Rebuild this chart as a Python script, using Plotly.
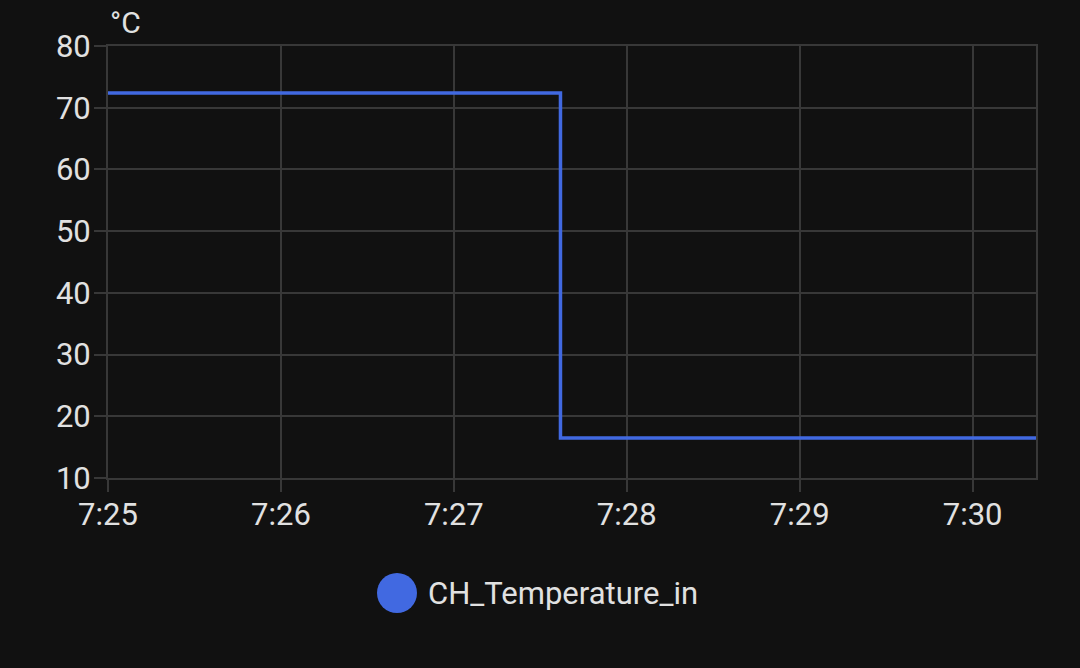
import plotly.graph_objects as go

# ---------------------------------------------------------------------
# Data
# ---------------------------------------------------------------------
TIMES = ["2024-01-01 07:25:00", "2024-01-01 07:27:37", "2024-01-01 07:30:22"]
TEMPS = [72.4, 16.5, 16.5]
SERIES_NAME = "CH_Temperature_in"
UNIT = "°C"
X_RANGE = ["2024-01-01 07:25:00", "2024-01-01 07:30:22"]
Y_TICKS = [10, 20, 30, 40, 50, 60, 70, 80]

# ---------------------------------------------------------------------
# Theme
# ---------------------------------------------------------------------
BG = "#111111"
GRID = "#383838"
TEXT = "#e1e1e1"
BLUE = "#4169e1"
FONT = "Roboto, Noto Sans, sans-serif"

fig = go.Figure()
fig.add_trace(go.Scatter(
    x=TIMES, y=TEMPS, mode="lines", line_shape="hv",
    line=dict(color=BLUE, width=3.5), name=SERIES_NAME, showlegend=False,
))

fig.update_layout(
    width=1080, height=668,
    paper_bgcolor=BG, plot_bgcolor=BG,
    font=dict(family=FONT, color=TEXT, size=31),
    margin=dict(l=108, r=44, t=46, b=190),
    showlegend=False,
)
axis_style = dict(
    showgrid=True, gridcolor=GRID, gridwidth=2,
    ticks="outside", ticklen=12, tickcolor=GRID, tickwidth=2,
    showline=True, linecolor=GRID, linewidth=2, mirror=True, zeroline=False,
    tickfont=dict(size=31, color=TEXT),
)
fig.update_xaxes(range=X_RANGE, tickformat="%-H:%M", dtick=60000,
                 ticklabelstandoff=-4, **axis_style)
fig.update_yaxes(range=[10, 80], tickvals=Y_TICKS, ticklabelstandoff=-3, **axis_style)

# unit label above the y axis
fig.add_annotation(
    text=UNIT, xref="paper", yref="paper", x=0, y=1, yshift=4,
    xanchor="left", yanchor="bottom", showarrow=False,
    font=dict(size=30, color=TEXT),
)

# custom legend (large circle + label), centred under the plot
fig.add_shape(
    type="circle", xref="paper", yref="paper",
    x0=(377 - 108) / 928, x1=(417 - 108) / 928,
    y0=-(573 - 478) / 432 - 40 / 432, y1=-(573 - 478) / 432,
    fillcolor=BLUE, line=dict(width=0),
)
fig.add_annotation(
    text=SERIES_NAME, xref="paper", yref="paper",
    x=(426 - 108) / 928, y=-(593 - 478) / 432,
    xanchor="left", yanchor="middle", showarrow=False,
    font=dict(size=31, color=TEXT),
)

fig.write_html(
    "out.html",
    config={"displayModeBar": False},
    post_script="document.body.style.margin='0';",
)
